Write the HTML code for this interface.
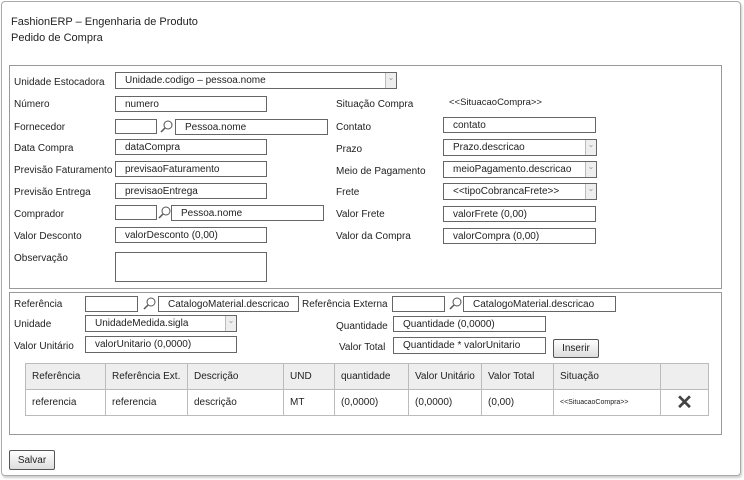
<!DOCTYPE html>
<html><head><meta charset="utf-8"><style>
*{margin:0;padding:0;box-sizing:border-box}
body{width:744px;height:480px;background:#fff;font-family:"Liberation Sans",sans-serif;font-size:10px;color:#222;position:relative;overflow:hidden}
div{position:absolute}
.frame{left:1px;top:1px;width:740px;height:475px;border:1px solid #aaa;border-radius:4px;box-shadow:1px 2px 2px #ccc}
.panel{border:1px solid #999;background:#fff}
.l{white-space:nowrap;line-height:12px;margin-top:2px}
.i,.s{border:1px solid #666;background:#fff;padding-left:9px;white-space:nowrap;display:flex;align-items:center;overflow:hidden}
.s:after{content:"⌄";position:absolute;right:0;top:0;width:10px;height:100%;background:#eee;border-left:1px solid #bbb;color:#999;font-size:8px;text-align:center;line-height:10px}
.btn{border:1px solid #555;border-radius:2px;background:linear-gradient(#fff,#ddd);display:flex;align-items:center;justify-content:center}
table{border-collapse:collapse;position:absolute;left:25px;top:363px;width:684px}
td{border:1px solid #bbb;padding-left:6px;height:25px;white-space:nowrap}
tr.h td{background:#eee;height:26px}
</style></head><body>
<div class="frame"></div>
<div class="l" style="left:11px;top:14px;font-size:11px">FashionERP – Engenharia de Produto</div>
<div class="l" style="left:11px;top:30px;font-size:11px">Pedido de Compra</div>

<div class="panel" style="left:9px;top:65px;width:713px;height:224px"></div>
<div class="l" style="left:14px;top:75px">Unidade Estocadora</div>
<div class="s" style="left:115px;top:72px;width:282px;height:17px">Unidade.codigo – pessoa.nome</div>
<div class="l" style="left:14px;top:97px">Número</div>
<div class="i" style="left:115px;top:96px;width:152px;height:16px">numero</div>
<div class="l" style="left:14px;top:120px">Fornecedor</div>
<div class="i" style="left:115px;top:119px;width:42px;height:15px"></div>
<svg style="position:absolute;left:160px;top:120px" width="14" height="14"><circle cx="8" cy="5" r="4" fill="none" stroke="#555"/><line x1="5" y1="8" x2="1" y2="12" stroke="#555" stroke-width="1.5"/></svg>
<div class="i" style="left:175px;top:119px;width:153px;height:16px">Pessoa.nome</div>
<div class="l" style="left:14px;top:141px">Data Compra</div>
<div class="i" style="left:115px;top:139px;width:152px;height:16px">dataCompra</div>
<div class="l" style="left:14px;top:163px">Previsão Faturamento</div>
<div class="i" style="left:115px;top:161px;width:152px;height:16px">previsaoFaturamento</div>
<div class="l" style="left:14px;top:185px">Previsão Entrega</div>
<div class="i" style="left:115px;top:183px;width:152px;height:16px">previsaoEntrega</div>
<div class="l" style="left:14px;top:207px">Comprador</div>
<div class="i" style="left:115px;top:205px;width:42px;height:15px"></div>
<svg style="position:absolute;left:158px;top:206px" width="14" height="14"><circle cx="8" cy="5" r="4" fill="none" stroke="#555"/><line x1="5" y1="8" x2="1" y2="12" stroke="#555" stroke-width="1.5"/></svg>
<div class="i" style="left:171px;top:205px;width:153px;height:16px">Pessoa.nome</div>
<div class="l" style="left:14px;top:229px">Valor Desconto</div>
<div class="i" style="left:115px;top:227px;width:152px;height:16px">valorDesconto (0,00)</div>
<div class="l" style="left:14px;top:251px">Observação</div>
<div class="i" style="left:115px;top:252px;width:152px;height:30px"></div>

<div class="l" style="left:336px;top:97px">Situação Compra</div>
<div class="l" style="left:449px;top:95px;font-size:9.5px">&lt;&lt;SituacaoCompra&gt;&gt;</div>
<div class="l" style="left:336px;top:120px">Contato</div>
<div class="i" style="left:443px;top:117px;width:153px;height:16px">contato</div>
<div class="l" style="left:336px;top:142px">Prazo</div>
<div class="s" style="left:443px;top:139px;width:154px;height:17px">Prazo.descricao</div>
<div class="l" style="left:336px;top:164px">Meio de Pagamento</div>
<div class="s" style="left:443px;top:161px;width:154px;height:17px">meioPagamento.descricao</div>
<div class="l" style="left:336px;top:185px">Frete</div>
<div class="s" style="left:443px;top:183px;width:154px;height:17px">&lt;&lt;tipoCobrancaFrete&gt;&gt;</div>
<div class="l" style="left:336px;top:207px">Valor Frete</div>
<div class="i" style="left:443px;top:206px;width:153px;height:16px">valorFrete (0,00)</div>
<div class="l" style="left:336px;top:229px">Valor da Compra</div>
<div class="i" style="left:443px;top:228px;width:153px;height:16px">valorCompra (0,00)</div>

<div class="panel" style="left:9px;top:292px;width:713px;height:143px"></div>
<div class="l" style="left:14px;top:297px">Referência</div>
<div class="i" style="left:85px;top:296px;width:53px;height:16px"></div>
<svg style="position:absolute;left:143px;top:297px" width="14" height="14"><circle cx="8" cy="5" r="4" fill="none" stroke="#555"/><line x1="5" y1="8" x2="1" y2="12" stroke="#555" stroke-width="1.5"/></svg>
<div class="i" style="left:158px;top:296px;width:141px;height:16px">CatalogoMaterial.descricao</div>
<div class="l" style="left:302px;top:297px">Referência Externa</div>
<div class="i" style="left:392px;top:296px;width:53px;height:16px"></div>
<svg style="position:absolute;left:449px;top:297px" width="14" height="14"><circle cx="8" cy="5" r="4" fill="none" stroke="#555"/><line x1="5" y1="8" x2="1" y2="12" stroke="#555" stroke-width="1.5"/></svg>
<div class="i" style="left:463px;top:296px;width:153px;height:16px">CatalogoMaterial.descricao</div>
<div class="l" style="left:14px;top:317px">Unidade</div>
<div class="s" style="left:85px;top:315px;width:152px;height:17px">UnidadeMedida.sigla</div>
<div class="l" style="left:336px;top:319px">Quantidade</div>
<div class="i" style="left:393px;top:316px;width:153px;height:16px">Quantidade (0,0000)</div>
<div class="l" style="left:14px;top:339px">Valor Unitário</div>
<div class="i" style="left:85px;top:336px;width:152px;height:17px">valorUnitario (0,0000)</div>
<div class="l" style="left:339px;top:340px">Valor Total</div>
<div class="i" style="left:393px;top:337px;width:153px;height:17px">Quantidade * valorUnitario</div>
<div class="btn" style="left:553px;top:339px;width:46px;height:19px">Inserir</div>

<table>
<tr class="h"><td style="width:80px">Referência</td><td style="width:82px">Referência Ext.</td><td style="width:96px">Descrição</td><td style="width:51px">UND</td><td style="width:74px">quantidade</td><td style="width:73px">Valor Unitário</td><td style="width:72px">Valor Total</td><td style="width:107px">Situação</td><td></td></tr>
<tr><td>referencia</td><td>referencia</td><td>descrição</td><td>MT</td><td>(0,0000)</td><td>(0,0000)</td><td>(0,00)</td><td style="font-size:7px">&lt;&lt;SituacaoCompra&gt;&gt;</td><td style="text-align:center;padding:0;font-size:20px;font-weight:bold;color:#444">✕</td></tr>
</table>

<div class="btn" style="left:9px;top:450px;width:46px;height:20px">Salvar</div>
</body></html>
